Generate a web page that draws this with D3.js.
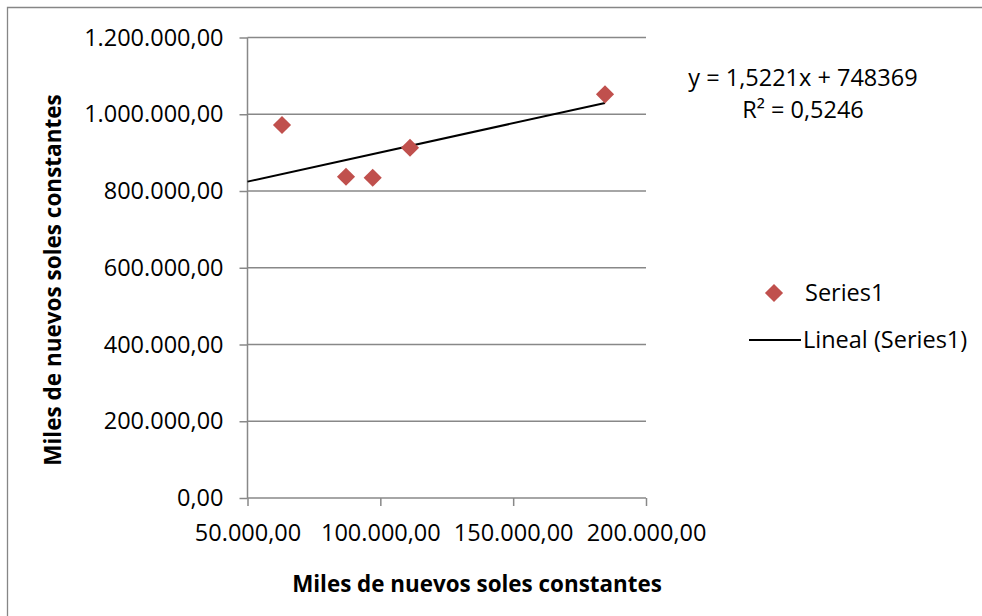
<!DOCTYPE html>
<html><head><meta charset="utf-8">
<script src="https://cdn.jsdelivr.net/npm/d3@7/dist/d3.min.js"></script>
<style>html,body{margin:0;background:#fff;overflow:hidden}svg{display:block}</style>
</head><body>
<script>
const xValues = [62990, 87080, 97130, 111170, 184570];
const yValues = [971960, 837260, 834650, 912830, 1051980];
const xTicks = [50000, 100000, 150000, 200000];
const yTicks = [0, 200000, 400000, 600000, 800000, 1000000, 1200000];
const trendSlope = 1.5221;
const trendIntercept = 748369;
const rSquared = "0,5246";
const seriesName = "Series1";
const trendName = "Lineal (Series1)";
const axisTitle = "Miles de nuevos soles constantes";

const W = 982, H = 616;
const svg = d3.select("body").append("svg").attr("width", W).attr("height", H);
const font = "'Open Sans', sans-serif";
const fs = 23.5;

// chart frame (only left and top edges visible)
svg.append("path").attr("d", `M7.5,${H + 5}V7.5H${W + 5}`)
  .attr("fill", "none").attr("stroke", "#868686").attr("stroke-width", 1.3);

const x = d3.scaleLinear().domain([50000, 200000]).range([247.5, 646]);
const y = d3.scaleLinear().domain([0, 1200000]).range([498, 37.5]);

const fmt = v => {
  const s = d3.format(",.2f")(v);
  return s.replace(/,/g, "#").replace(/\./g, ",").replace(/#/g, ".");
};

// gridlines
svg.append("g").selectAll("line").data(yTicks.filter(d => d > 0)).join("line")
  .attr("x1", x(50000)).attr("x2", x(200000))
  .attr("y1", d => y(d)).attr("y2", d => y(d))
  .attr("stroke", "#888").attr("stroke-width", 1.5);

// y axis
const ya = svg.append("g").attr("transform", `translate(${x(50000)},0)`)
  .call(d3.axisLeft(y).tickValues(yTicks).tickSize(8).tickPadding(16).tickFormat(fmt));
ya.select(".domain").attr("stroke", "#888").attr("stroke-width", 1.5).attr("d", `M0,${y(1200000)}V${y(0)}`);
ya.selectAll(".tick line").attr("stroke", "#888").attr("stroke-width", 1.5);
ya.selectAll("text").attr("font-family", font).attr("font-size", fs).attr("fill", "#000");

// x axis
const xa = svg.append("g").attr("transform", `translate(0,${y(0)})`)
  .call(d3.axisBottom(x).tickValues(xTicks).tickSize(8).tickPadding(18).tickFormat(fmt));
xa.select(".domain").attr("stroke", "#888").attr("stroke-width", 1.5).attr("d", `M${x(50000)},0H${x(200000)}`);
xa.selectAll(".tick line").attr("stroke", "#888").attr("stroke-width", 1.5);
xa.selectAll("text").attr("font-family", font).attr("font-size", fs).attr("fill", "#000");

// trendline
const x0 = 50000, x1 = d3.max(xValues);
svg.append("line")
  .attr("x1", x(x0)).attr("y1", y(trendSlope * x0 + trendIntercept))
  .attr("x2", x(x1)).attr("y2", y(trendSlope * x1 + trendIntercept))
  .attr("stroke", "#000").attr("stroke-width", 2);

// points
const diamond = d3.symbol().type(d3.symbolDiamond2).size(210);
svg.append("g").selectAll("path").data(xValues.map((v, i) => [v, yValues[i]])).join("path")
  .attr("d", diamond)
  .attr("transform", d => `translate(${x(d[0])},${y(d[1])})`)
  .attr("fill", "#c0504d");

// equation
svg.append("text").attr("x", 803).attr("y", 86).attr("text-anchor", "middle")
  .attr("font-family", font).attr("font-size", fs).text(`y = ${String(trendSlope).replace(".", ",")}x + ${trendIntercept}`);
svg.append("text").attr("x", 803).attr("y", 118).attr("text-anchor", "middle")
  .attr("font-family", font).attr("font-size", fs).text(`R² = ${rSquared}`);

// legend
svg.append("path").attr("d", diamond).attr("transform", "translate(774,293)").attr("fill", "#c0504d");
svg.append("text").attr("x", 805).attr("y", 301).attr("font-family", font).attr("font-size", fs).text(seriesName);
svg.append("line").attr("x1", 749).attr("x2", 801).attr("y1", 340).attr("y2", 340).attr("stroke", "#000").attr("stroke-width", 2);
svg.append("text").attr("x", 803).attr("y", 348).attr("font-family", font).attr("font-size", fs).text(trendName);

// axis titles
svg.append("text").attr("x", 477).attr("y", 592).attr("text-anchor", "middle")
  .attr("font-family", font).attr("font-weight", "bold").attr("font-size", 22.4).text(axisTitle);
svg.append("text").attr("transform", "translate(61,280) rotate(-90)").attr("text-anchor", "middle")
  .attr("font-family", font).attr("font-weight", "bold").attr("font-size", 22.5).text(axisTitle);
</script>
</body></html>
